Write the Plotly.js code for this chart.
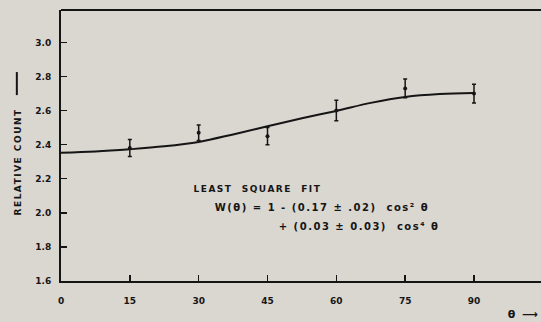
<!DOCTYPE html>
<html>
<head>
<meta charset="utf-8">
<script src="https://cdn.plot.ly/plotly-3.0.1.min.js"></script>
<style>
html,body{margin:0;padding:0;background:#dad6d0;}
#chart{width:541px;height:322px;}
#chart .annotation-text{letter-spacing:1.5px;}
</style>
</head>
<body>
<div id="chart"></div>
<script>
// Measured points (angle in degrees, relative count, error)
const theta = [15, 30, 45, 60, 75, 90];
const counts = [2.38, 2.47, 2.45, 2.60, 2.73, 2.70];
const errs = [0.05, 0.045, 0.05, 0.06, 0.055, 0.055];
// Least-square fit curve
const fitTheta = [0, 7.5, 15, 22.5, 30, 37.5, 45, 52.5, 60, 67.5, 75, 82.5, 90];
const fitCounts = [2.353, 2.36, 2.373, 2.39, 2.416, 2.46, 2.508, 2.555, 2.598, 2.645, 2.68, 2.697, 2.703];
// Tick labels
const xTicks = [0, 15, 30, 45, 60, 75, 90];
const xTickText = ["0", "15", "30", "45", "60", "75", "90"];
const yTicks = [1.6, 1.8, 2.0, 2.2, 2.4, 2.6, 2.8, 3.0];
const yTickText = ["1.6", "1.8", "2.0", "2.2", "2.4", "2.6", "2.8", "3.0"];
const fitLines = [
  "LEAST\u00a0\u00a0SQUARE\u00a0\u00a0FIT",
  "W(θ)\u00a0=\u00a01\u00a0-\u00a0(0.17\u00a0±\u00a0.02)\u00a0\u00a0cos²\u00a0θ",
  "+\u00a0(0.03\u00a0±\u00a00.03)\u00a0\u00a0cos⁴\u00a0θ"
];

const ink = "#151515";
const tickFont = {family: "DejaVu Sans", size: 9, color: ink, weight: "bold"};

const traces = [
  {
    x: fitTheta, y: fitCounts, type: "scatter", mode: "lines",
    line: {color: ink, width: 2, shape: "spline", smoothing: 1},
    hoverinfo: "skip", showlegend: false
  },
  {
    x: theta, y: counts, type: "scatter", mode: "markers",
    marker: {color: ink, size: 4},
    error_y: {type: "data", array: errs, visible: true, color: ink, thickness: 1.5, width: 2},
    showlegend: false
  }
];

const layout = {
  width: 541, height: 322,
  margin: {l: 61, r: 0, t: 10, b: 41, pad: 0},
  paper_bgcolor: "#dad6d0", plot_bgcolor: "#dad6d0",
  showlegend: false,
  xaxis: {
    range: [0, 104.6], tickvals: xTicks, ticktext: xTickText,
    ticks: "inside", ticklen: 6, tickwidth: 1.5, tickcolor: ink,
    showline: true, linecolor: ink, linewidth: 2,
    showgrid: false, zeroline: false, tickfont: tickFont,
    ticklabelstandoff: 10
  },
  yaxis: {
    range: [1.6, 3.19], tickvals: yTicks, ticktext: yTickText,
    ticks: "inside", ticklen: 6, tickwidth: 1.5, tickcolor: ink,
    showline: true, linecolor: ink, linewidth: 2,
    showgrid: false, zeroline: false, tickfont: tickFont,
    ticklabelstandoff: 6
  },
  shapes: [
    {type: "line", xref: "paper", yref: "paper", x0: 0, x1: 1, y0: 1, y1: 1,
     line: {color: ink, width: 2}},
    {type: "line", xref: "paper", yref: "paper", x0: -0.092, x1: -0.092, y0: 0.686, y1: 0.771,
     line: {color: ink, width: 2}}
  ],
  annotations: [
    {text: fitLines[0], x: 43.0, y: 2.139, xref: "x", yref: "y", xanchor: "center", yanchor: "middle",
     showarrow: false, font: {family: "DejaVu Sans", size: 9, color: ink, weight: "bold"}},
    {text: fitLines[1], x: 56.9, y: 2.032, xref: "x", yref: "y", xanchor: "center", yanchor: "middle",
     showarrow: false, font: {family: "DejaVu Sans", size: 10, color: ink, weight: "bold"}},
    {text: fitLines[2], x: 64.9, y: 1.92, xref: "x", yref: "y", xanchor: "center", yanchor: "middle",
     showarrow: false, font: {family: "DejaVu Sans", size: 10, color: ink, weight: "bold"}},
    {text: "RELATIVE COUNT", x: -0.0896, y: 0.443, xref: "paper", yref: "paper",
     xanchor: "center", yanchor: "middle", textangle: -90, showarrow: false,
     font: {family: "DejaVu Sans", size: 9, color: ink, weight: "bold"}},
    {text: "θ ⟶", x: 0.931, y: -0.122, xref: "paper", yref: "paper",
     xanchor: "left", yanchor: "middle", showarrow: false,
     font: {family: "DejaVu Sans", size: 11, color: ink, weight: "bold"}}
  ]
};

Plotly.newPlot("chart", traces, layout, {displayModeBar: false, staticPlot: true});
</script>
</body>
</html>
